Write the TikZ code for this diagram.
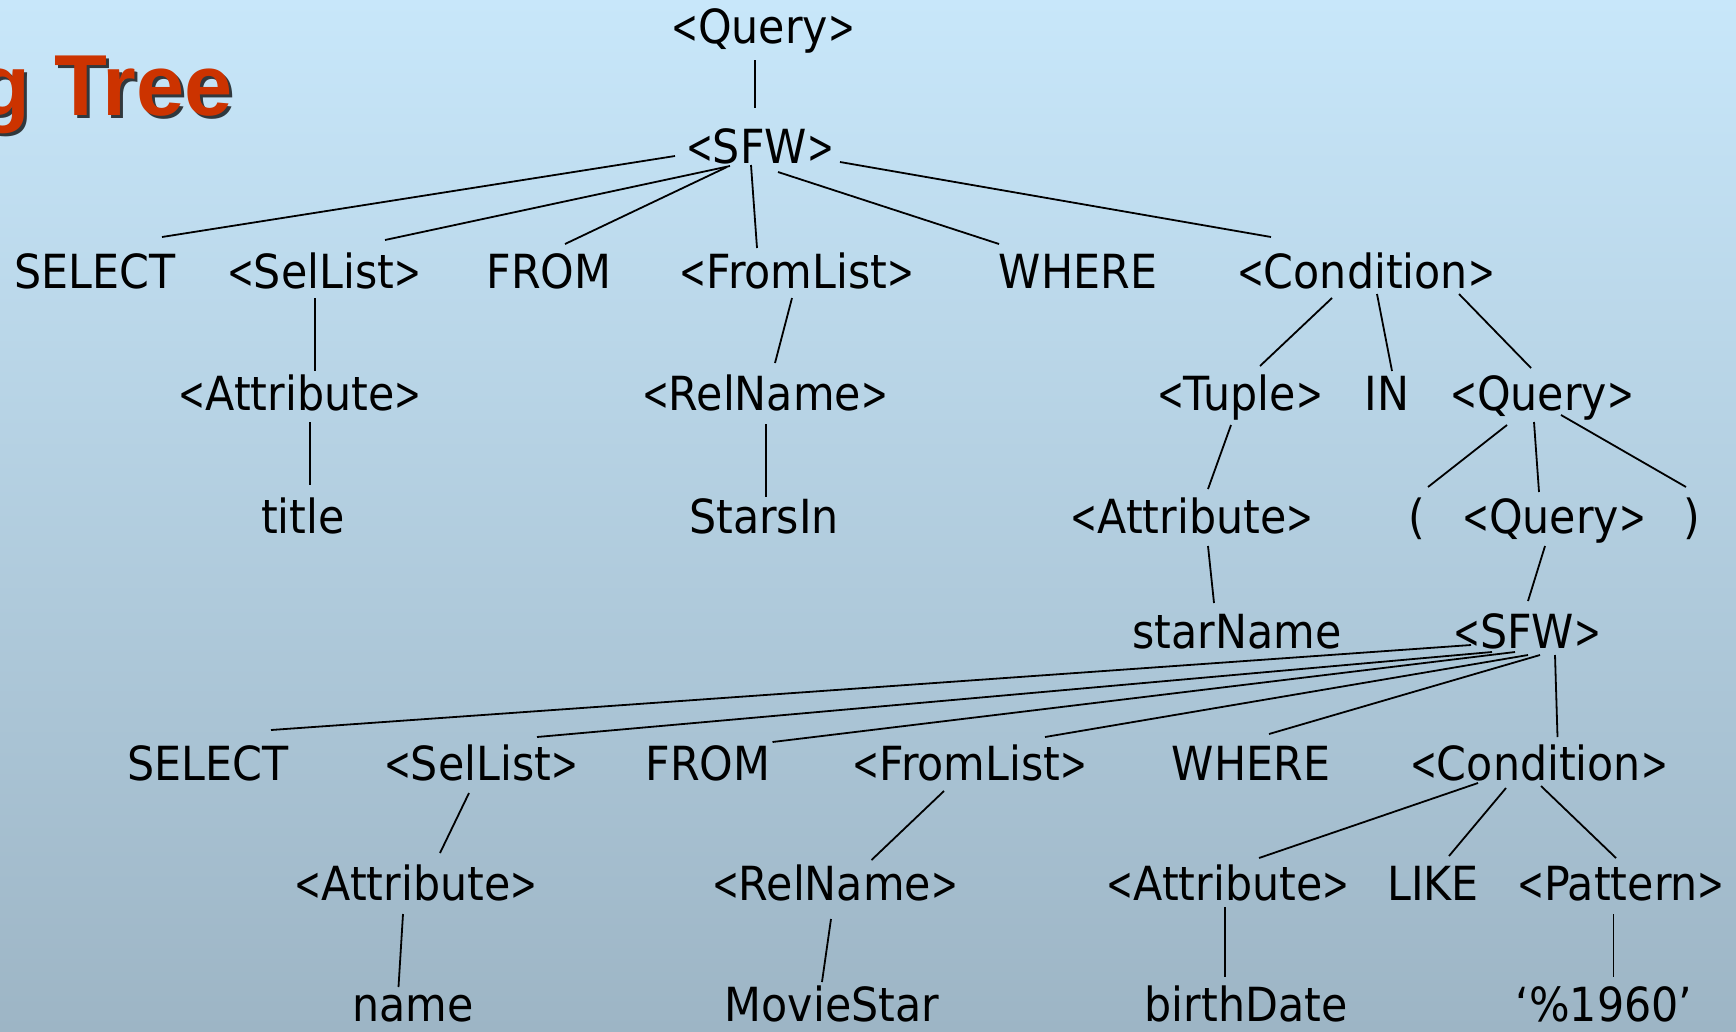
\documentclass[tikz,border=0pt]{standalone}
\usepackage{fontspec}
\usepackage{graphicx}
\usetikzlibrary{calc}
\newfontfamily\tfont[FakeStretch=0.91]{DejaVu Sans}
\newfontfamily\hfont{Liberation Sans}
\definecolor{bgtop}{RGB}{200,231,250}
\definecolor{bgbot}{RGB}{157,181,197}
\definecolor{ttl}{RGB}{204,51,0}
\newcommand\ang[1]{\scalebox{0.75}[1]{<}#1\scalebox{0.75}[1]{>}}
\newcommand\cn[6]{\draw[edge] ($(#1.base)+(#2,#3)$) -- ($(#4.base)+(#5,#6)$);}
\tikzset{
  lbl/.style={anchor=base, inner sep=0pt, outer sep=0pt, font=\tfont\fontsize{47}{56}\selectfont, text=black},
  edge/.style={line width=1.8pt, black},
}
\begin{document}
\begin{tikzpicture}[x=1pt, y=-1pt]
\useasboundingbox (0,0) rectangle (1736,1031);
\clip (0,0) rectangle (1736,1031);
\shade[top color=bgtop, bottom color=bgbot] (0,0) rectangle (1736,1031);
% title
\node[anchor=base west, inner sep=0pt, text=black, opacity=0.75, font=\hfont\bfseries\fontsize{86.6}{90}\selectfont] (ttlsh) at (-20,118) {g Tree};
\node[anchor=base west, inner sep=0pt, text=ttl, font=\hfont\bfseries\fontsize{86.6}{90}\selectfont] (ttl) at (-23,115) {g Tree};
% nodes
\node[lbl] (q0) at (763,43) {\ang{Query}};
\node[lbl] (sfw0) at (760,163) {\ang{SFW}};
\node[lbl] (sel1) at (95,288) {SELECT};
\node[lbl] (sl1) at (324,288) {\ang{SelList}};
\node[lbl] (from1) at (549,288) {FROM};
\node[lbl] (fl1) at (797,288) {\ang{FromList}};
\node[lbl] (wh1) at (1078,288) {WHERE};
\node[lbl] (cond1) at (1366,288) {\ang{Condition}};
\node[lbl] (attr1) at (300,410) {\ang{Attribute}};
\node[lbl] (rel1) at (765,410) {\ang{RelName}};
\node[lbl] (tup) at (1240,410) {\ang{Tuple}};
\node[lbl] (in) at (1387,410) {IN};
\node[lbl] (q1) at (1542,410) {\ang{Query}};
\node[lbl] (title) at (303,533) {title};
\node[lbl] (stars) at (764,533) {StarsIn};
\node[lbl] (attr2) at (1192,533) {\ang{Attribute}};
\node[lbl] (lp) at (1417,533) {(};
\node[lbl] (q2) at (1554,533) {\ang{Query}};
\node[lbl] (rp) at (1692,533) {)};
\node[lbl] (starname) at (1237,648) {starName};
\node[lbl] (sfw1) at (1527,648) {\ang{SFW}};
\node[lbl] (sel2) at (208,780) {SELECT};
\node[lbl] (sl2) at (481,780) {\ang{SelList}};
\node[lbl] (from2) at (708,780) {FROM};
\node[lbl] (fl2) at (970,780) {\ang{FromList}};
\node[lbl] (wh2) at (1251,780) {WHERE};
\node[lbl] (cond2) at (1539,780) {\ang{Condition}};
\node[lbl] (attr3) at (416,900) {\ang{Attribute}};
\node[lbl] (rel2) at (835,900) {\ang{RelName}};
\node[lbl] (attr4) at (1228,900) {\ang{Attribute}};
\node[lbl] (like) at (1433,900) {LIKE};
\node[lbl] (pat) at (1621,900) {\ang{Pattern}};
\node[lbl] (name) at (413,1021) {name};
\node[lbl] (movie) at (832,1021) {MovieStar};
\node[lbl] (birth) at (1246,1021) {birthDate};
\node[lbl] (pct) at (1604,1021) {‘\%1960’};
% connectors
\cn{q0}{-8}{17}{sfw0}{-5}{-55}
\cn{sfw0}{-85}{-7}{sel1}{67}{-51}
\cn{sfw0}{-30}{3}{sl1}{61}{-48}
\cn{sfw0}{-33}{4}{from1}{16}{-44}
\cn{sfw0}{-9}{2}{fl1}{-40}{-40}
\cn{sfw0}{18}{9}{wh1}{-79}{-44}
\cn{sfw0}{80}{-1}{cond1}{-95}{-51}
\cn{sl1}{-9}{10}{attr1}{15}{-39}
\cn{fl1}{-5}{10}{rel1}{10}{-47}
\cn{cond1}{-34}{10}{tup}{20}{-44}
\cn{cond1}{11}{6}{in}{5}{-39}
\cn{cond1}{93}{6}{q1}{-11}{-42}
\cn{attr1}{10}{12}{title}{7}{-48}
\cn{rel1}{1}{14}{stars}{2}{-36}
\cn{tup}{-9}{15}{attr2}{16}{-44}
\cn{q1}{-35}{15}{lp}{11}{-46}
\cn{q1}{-8}{12}{q2}{-15}{-41}
\cn{q1}{19}{5}{rp}{-6}{-46}
\cn{attr2}{16}{13}{starname}{-23}{-45}
\cn{q2}{-9}{13}{sfw1}{1}{-47}
\cn{sfw1}{-56}{-3}{sel2}{63}{-50}
\cn{sfw1}{-35}{4}{sl2}{56}{-43}
\cn{sfw1}{-12}{4}{from2}{64.5}{-38}
\cn{sfw1}{1}{7}{fl2}{75}{-43}
\cn{sfw1}{13}{7}{wh2}{18}{-46}
\cn{sfw1}{28}{7}{cond2}{18.5}{-43}
\cn{sl2}{-12}{13}{attr3}{24}{-47}
\cn{fl2}{-26}{11}{rel2}{36.5}{-40}
\cn{cond2}{-61}{3}{attr4}{31}{-42}
\cn{cond2}{-33}{8}{like}{16}{-44}
\cn{cond2}{2}{6}{pat}{-5}{-42}
\cn{attr3}{-13}{14}{name}{-14.5}{-34}
\cn{rel2}{-4}{19}{movie}{-10}{-39}
\cn{attr4}{-3}{7}{birth}{-21}{-44}
\cn{pat}{-7.5}{14}{pct}{9.5}{-44}
\end{tikzpicture}
\end{document}
